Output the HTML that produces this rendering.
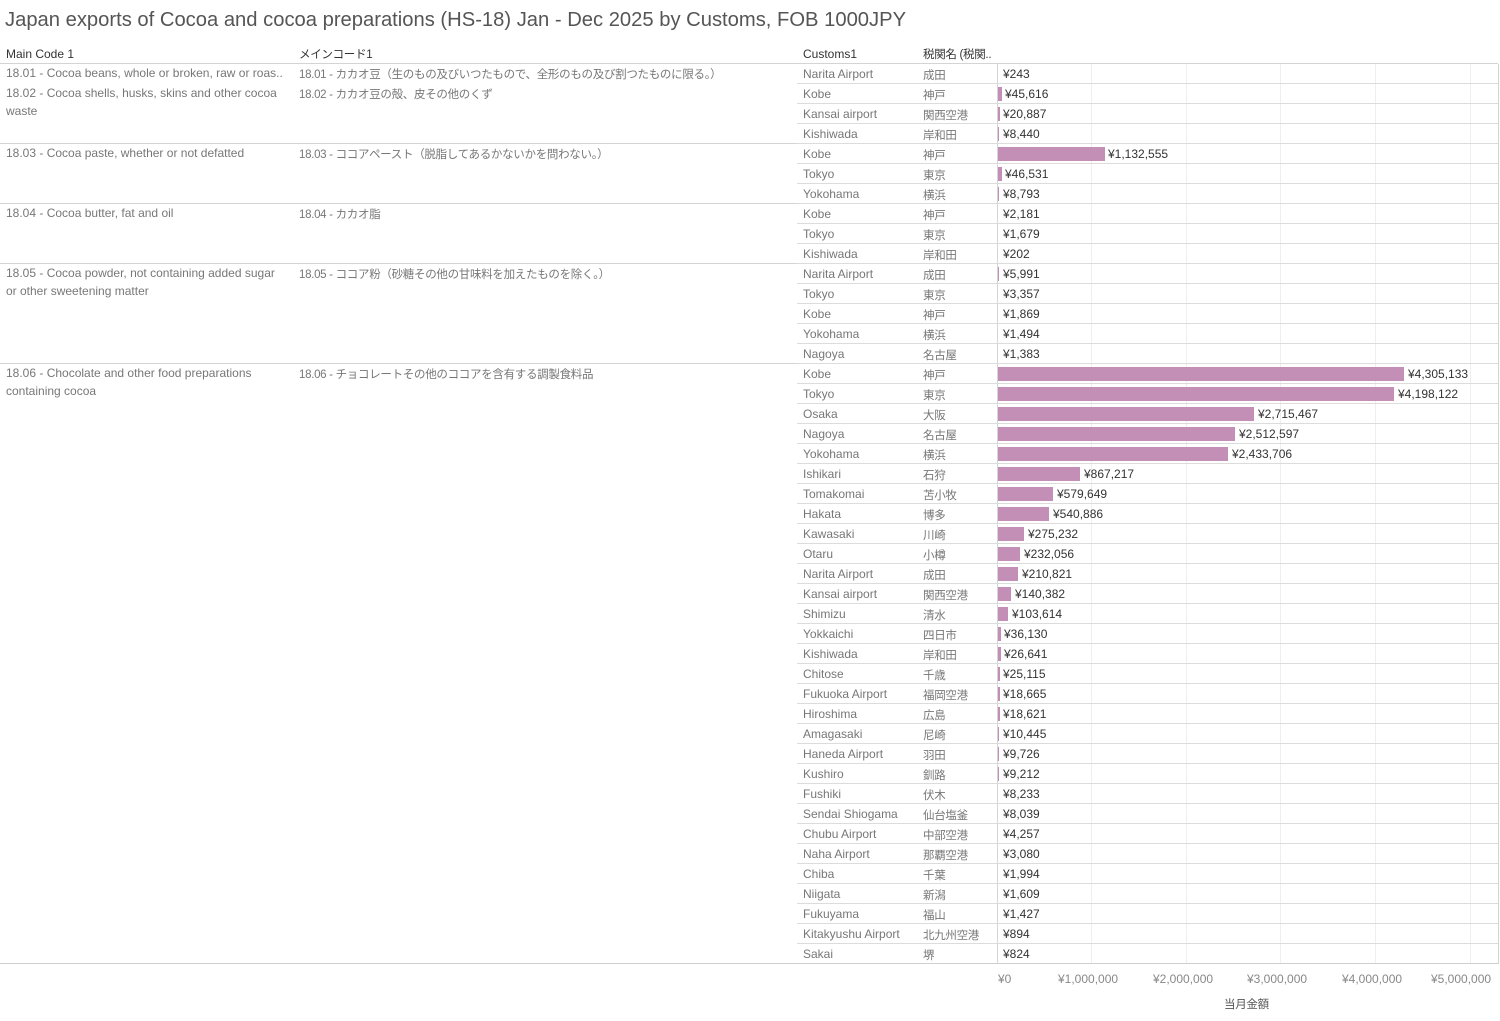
<!DOCTYPE html>
<html><head><meta charset="utf-8"><style>
body{margin:0;width:1500px;height:1021px;background:#fff;position:relative;overflow:hidden;font-family:"Liberation Sans","Noto Sans CJK JP",sans-serif;font-size:12px;color:#777}
.t{position:absolute;left:5px;top:8px;font-size:20.2px;color:#555;white-space:nowrap;line-height:24px}
.h{position:absolute;top:47px;color:#333;font-size:12px;line-height:14px}
.h.jp{top:48px}
.hl{position:absolute;height:1px;background:#d4d4d4}
.vl{position:absolute;width:1px;background:#d4d4d4}
.gl{position:absolute;width:1px;background:#efefef;top:64px;height:900px}
.r{position:absolute;left:797px;width:701px;height:20px;border-bottom:1px solid #dcdcdc;box-sizing:border-box}
.r span{position:absolute;top:3px;white-space:nowrap;line-height:14px}
.r span.jp{top:5px}
.c{left:6px}.j{left:126px}
.jp{font-size:11.5px;letter-spacing:-0.3px}
.b{left:201px;top:3px!important;height:14px;background:#c38fb6}
.v{color:#333}
.m{position:absolute;line-height:18px;white-space:nowrap}
.m.jp{margin-top:2px}
.ax{position:absolute;top:972px;color:#888;line-height:14px}
</style></head><body>
<div class="t">Japan exports of Cocoa and cocoa preparations (HS-18) Jan - Dec 2025 by Customs, FOB 1000JPY</div>
<div class="h" style="left:6px">Main Code 1</div>
<div class="h jp" style="left:299px">メインコード1</div>
<div class="h" style="left:803px">Customs1</div>
<div class="h jp" style="left:923px">税関名 (税関..</div>
<div class="gl" style="left:1091px"></div><div class="gl" style="left:1186px"></div><div class="gl" style="left:1280px"></div><div class="gl" style="left:1375px"></div><div class="gl" style="left:1470px"></div>
<div class="hl" style="left:0;width:1498px;top:63px"></div>
<div class="hl" style="left:0;width:1498px;top:143px"></div>
<div class="hl" style="left:0;width:1498px;top:203px"></div>
<div class="hl" style="left:0;width:1498px;top:263px"></div>
<div class="hl" style="left:0;width:1498px;top:363px"></div>
<div class="vl" style="left:997px;top:64px;height:900px"></div>
<div class="vl" style="left:1498px;top:64px;height:900px"></div>
<div class="m" style="left:6px;top:64px">18.01 - Cocoa beans, whole or broken, raw or roas..</div>
<div class="m jp" style="left:299px;top:64px">18.01 - カカオ豆（生のもの及びいつたもので、全形のもの及び割つたものに限る。）</div>
<div class="m" style="left:6px;top:84px">18.02 - Cocoa shells, husks, skins and other cocoa<br>waste</div>
<div class="m jp" style="left:299px;top:84px">18.02 - カカオ豆の殻、皮その他のくず</div>
<div class="m" style="left:6px;top:144px">18.03 - Cocoa paste, whether or not defatted</div>
<div class="m jp" style="left:299px;top:144px">18.03 - ココアペースト（脱脂してあるかないかを問わない。）</div>
<div class="m" style="left:6px;top:204px">18.04 - Cocoa butter, fat and oil</div>
<div class="m jp" style="left:299px;top:204px">18.04 - カカオ脂</div>
<div class="m" style="left:6px;top:264px">18.05 - Cocoa powder, not containing added sugar<br>or other sweetening matter</div>
<div class="m jp" style="left:299px;top:264px">18.05 - ココア粉（砂糖その他の甘味料を加えたものを除く。）</div>
<div class="m" style="left:6px;top:364px">18.06 - Chocolate and other food preparations<br>containing cocoa</div>
<div class="m jp" style="left:299px;top:364px">18.06 - チョコレートその他のココアを含有する調製食料品</div>

<div class="r" style="top:64px"><span class="c">Narita Airport</span><span class="j jp">成田</span><span class="v" style="left:206px">¥243</span></div>
<div class="r" style="top:84px"><span class="c">Kobe</span><span class="j jp">神戸</span><span class="b" style="width:4px"></span><span class="v" style="left:208px">¥45,616</span></div>
<div class="r" style="top:104px"><span class="c">Kansai airport</span><span class="j jp">関西空港</span><span class="b" style="width:2px"></span><span class="v" style="left:206px">¥20,887</span></div>
<div class="r" style="top:124px"><span class="c">Kishiwada</span><span class="j jp">岸和田</span><span class="b" style="width:1px"></span><span class="v" style="left:206px">¥8,440</span></div>
<div class="r" style="top:144px"><span class="c">Kobe</span><span class="j jp">神戸</span><span class="b" style="width:107px"></span><span class="v" style="left:311px">¥1,132,555</span></div>
<div class="r" style="top:164px"><span class="c">Tokyo</span><span class="j jp">東京</span><span class="b" style="width:4px"></span><span class="v" style="left:208px">¥46,531</span></div>
<div class="r" style="top:184px"><span class="c">Yokohama</span><span class="j jp">横浜</span><span class="b" style="width:1px"></span><span class="v" style="left:206px">¥8,793</span></div>
<div class="r" style="top:204px"><span class="c">Kobe</span><span class="j jp">神戸</span><span class="v" style="left:206px">¥2,181</span></div>
<div class="r" style="top:224px"><span class="c">Tokyo</span><span class="j jp">東京</span><span class="v" style="left:206px">¥1,679</span></div>
<div class="r" style="top:244px"><span class="c">Kishiwada</span><span class="j jp">岸和田</span><span class="v" style="left:206px">¥202</span></div>
<div class="r" style="top:264px"><span class="c">Narita Airport</span><span class="j jp">成田</span><span class="b" style="width:1px"></span><span class="v" style="left:206px">¥5,991</span></div>
<div class="r" style="top:284px"><span class="c">Tokyo</span><span class="j jp">東京</span><span class="v" style="left:206px">¥3,357</span></div>
<div class="r" style="top:304px"><span class="c">Kobe</span><span class="j jp">神戸</span><span class="v" style="left:206px">¥1,869</span></div>
<div class="r" style="top:324px"><span class="c">Yokohama</span><span class="j jp">横浜</span><span class="v" style="left:206px">¥1,494</span></div>
<div class="r" style="top:344px"><span class="c">Nagoya</span><span class="j jp">名古屋</span><span class="v" style="left:206px">¥1,383</span></div>
<div class="r" style="top:364px"><span class="c">Kobe</span><span class="j jp">神戸</span><span class="b" style="width:406px"></span><span class="v" style="left:611px">¥4,305,133</span></div>
<div class="r" style="top:384px"><span class="c">Tokyo</span><span class="j jp">東京</span><span class="b" style="width:396px"></span><span class="v" style="left:601px">¥4,198,122</span></div>
<div class="r" style="top:404px"><span class="c">Osaka</span><span class="j jp">大阪</span><span class="b" style="width:256px"></span><span class="v" style="left:461px">¥2,715,467</span></div>
<div class="r" style="top:424px"><span class="c">Nagoya</span><span class="j jp">名古屋</span><span class="b" style="width:237px"></span><span class="v" style="left:442px">¥2,512,597</span></div>
<div class="r" style="top:444px"><span class="c">Yokohama</span><span class="j jp">横浜</span><span class="b" style="width:230px"></span><span class="v" style="left:435px">¥2,433,706</span></div>
<div class="r" style="top:464px"><span class="c">Ishikari</span><span class="j jp">石狩</span><span class="b" style="width:82px"></span><span class="v" style="left:287px">¥867,217</span></div>
<div class="r" style="top:484px"><span class="c">Tomakomai</span><span class="j jp">苫小牧</span><span class="b" style="width:55px"></span><span class="v" style="left:260px">¥579,649</span></div>
<div class="r" style="top:504px"><span class="c">Hakata</span><span class="j jp">博多</span><span class="b" style="width:51px"></span><span class="v" style="left:256px">¥540,886</span></div>
<div class="r" style="top:524px"><span class="c">Kawasaki</span><span class="j jp">川崎</span><span class="b" style="width:26px"></span><span class="v" style="left:231px">¥275,232</span></div>
<div class="r" style="top:544px"><span class="c">Otaru</span><span class="j jp">小樽</span><span class="b" style="width:22px"></span><span class="v" style="left:227px">¥232,056</span></div>
<div class="r" style="top:564px"><span class="c">Narita Airport</span><span class="j jp">成田</span><span class="b" style="width:20px"></span><span class="v" style="left:225px">¥210,821</span></div>
<div class="r" style="top:584px"><span class="c">Kansai airport</span><span class="j jp">関西空港</span><span class="b" style="width:13px"></span><span class="v" style="left:218px">¥140,382</span></div>
<div class="r" style="top:604px"><span class="c">Shimizu</span><span class="j jp">清水</span><span class="b" style="width:10px"></span><span class="v" style="left:215px">¥103,614</span></div>
<div class="r" style="top:624px"><span class="c">Yokkaichi</span><span class="j jp">四日市</span><span class="b" style="width:3px"></span><span class="v" style="left:207px">¥36,130</span></div>
<div class="r" style="top:644px"><span class="c">Kishiwada</span><span class="j jp">岸和田</span><span class="b" style="width:3px"></span><span class="v" style="left:207px">¥26,641</span></div>
<div class="r" style="top:664px"><span class="c">Chitose</span><span class="j jp">千歳</span><span class="b" style="width:2px"></span><span class="v" style="left:206px">¥25,115</span></div>
<div class="r" style="top:684px"><span class="c">Fukuoka Airport</span><span class="j jp">福岡空港</span><span class="b" style="width:2px"></span><span class="v" style="left:206px">¥18,665</span></div>
<div class="r" style="top:704px"><span class="c">Hiroshima</span><span class="j jp">広島</span><span class="b" style="width:2px"></span><span class="v" style="left:206px">¥18,621</span></div>
<div class="r" style="top:724px"><span class="c">Amagasaki</span><span class="j jp">尼崎</span><span class="b" style="width:1px"></span><span class="v" style="left:206px">¥10,445</span></div>
<div class="r" style="top:744px"><span class="c">Haneda Airport</span><span class="j jp">羽田</span><span class="b" style="width:1px"></span><span class="v" style="left:206px">¥9,726</span></div>
<div class="r" style="top:764px"><span class="c">Kushiro</span><span class="j jp">釧路</span><span class="b" style="width:1px"></span><span class="v" style="left:206px">¥9,212</span></div>
<div class="r" style="top:784px"><span class="c">Fushiki</span><span class="j jp">伏木</span><span class="v" style="left:206px">¥8,233</span></div>
<div class="r" style="top:804px"><span class="c">Sendai Shiogama</span><span class="j jp">仙台塩釜</span><span class="v" style="left:206px">¥8,039</span></div>
<div class="r" style="top:824px"><span class="c">Chubu Airport</span><span class="j jp">中部空港</span><span class="v" style="left:206px">¥4,257</span></div>
<div class="r" style="top:844px"><span class="c">Naha Airport</span><span class="j jp">那覇空港</span><span class="v" style="left:206px">¥3,080</span></div>
<div class="r" style="top:864px"><span class="c">Chiba</span><span class="j jp">千葉</span><span class="v" style="left:206px">¥1,994</span></div>
<div class="r" style="top:884px"><span class="c">Niigata</span><span class="j jp">新潟</span><span class="v" style="left:206px">¥1,609</span></div>
<div class="r" style="top:904px"><span class="c">Fukuyama</span><span class="j jp">福山</span><span class="v" style="left:206px">¥1,427</span></div>
<div class="r" style="top:924px"><span class="c">Kitakyushu Airport</span><span class="j jp">北九州空港</span><span class="v" style="left:206px">¥894</span></div>
<div class="r" style="top:944px"><span class="c">Sakai</span><span class="j jp">堺</span><span class="v" style="left:206px">¥824</span></div>
<div class="hl" style="left:0;width:1498px;top:963px;background:#cfcfcf"></div>

<div class="ax" style="left:998px">¥0</div>
<div class="ax" style="left:1058px">¥1,000,000</div>
<div class="ax" style="left:1153px">¥2,000,000</div>
<div class="ax" style="left:1247px">¥3,000,000</div>
<div class="ax" style="left:1342px">¥4,000,000</div>
<div class="ax" style="left:1431px">¥5,000,000</div>
<div class="ax jp" style="left:1224px;top:998px;color:#555">当月金額</div>
</body></html>
